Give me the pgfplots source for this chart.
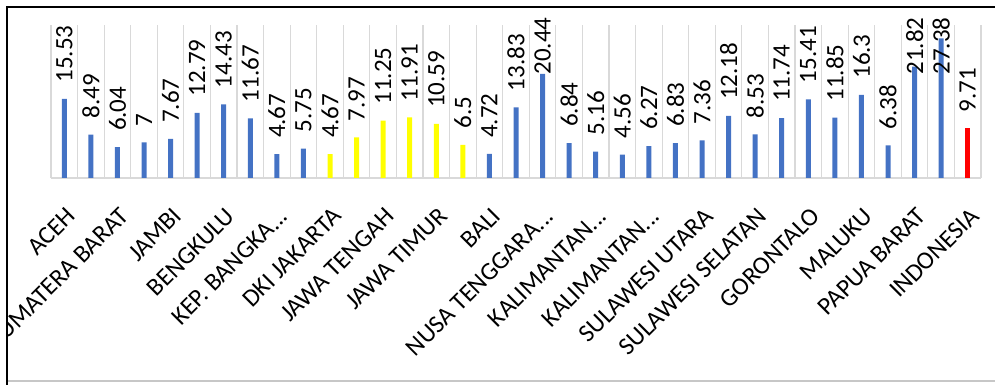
\documentclass[border=0pt]{standalone}
\usepackage{pgfplots}
\pgfplotsset{compat=1.18}
\usepackage{pgfplotstable}
\usepackage{fontspec}
\setmainfont{Carlito}
\definecolor{barblue}{HTML}{4472C4}
\definecolor{baryellow}{HTML}{FFFF00}
\definecolor{barred}{HTML}{FF0000}
\definecolor{gridgray}{HTML}{D9D9D9}
\newcommand{\el}{.\kern0pt.\kern0pt.}

\pgfplotstableread{
x v ly
0 15.53 15.53
1 8.49 8.49
2 6.04 6.04
3 7 7
4 7.67 7.67
5 12.79 12.79
6 14.43 14.43
7 11.67 11.67
8 4.67 4.67
9 5.75 5.75
10 4.67 4.67
11 7.97 7.97
12 11.25 11.25
13 11.91 11.91
14 10.59 10.59
15 6.5 6.5
16 4.72 4.72
17 13.83 13.83
18 20.44 17.1
19 6.84 6.84
20 5.16 5.16
21 4.56 4.56
22 6.27 6.27
23 6.83 6.83
24 7.36 7.36
25 12.18 12.18
26 8.53 8.53
27 11.74 11.74
28 15.41 15.41
29 11.85 11.85
30 16.3 16.3
31 6.38 6.38
32 21.82 17.1
33 27.38 17.1
34 9.71 9.71
}\datatable

\begin{document}
\begin{tikzpicture}[x=1pt,y=1pt]
\useasboundingbox (0,0) rectangle (995,385);
\begin{scope}
\clip (7,0) rectangle (995,378);
\begin{axis}[
  at={(51pt,207pt)}, anchor=south west,
  scale only axis, width=930pt, height=153pt,
  xmin=-0.5, xmax=34.5, ymin=0, ymax=30,
  clip=false,
  hide y axis,
  axis x line*=bottom,
  x axis line style={draw=gridgray, line width=1.3pt},
  major tick length=0pt,
  xtick={0,2,...,34},
  xticklabels={ACEH,SUMATERA BARAT,JAMBI,BENGKULU,KEP. BANGKA\el,DKI JAKARTA,JAWA TENGAH,JAWA TIMUR,BALI,NUSA TENGGARA\el,KALIMANTAN\el,KALIMANTAN\el,SULAWESI UTARA,SULAWESI SELATAN,GORONTALO,MALUKU,PAPUA BARAT,INDONESIA},
  xticklabel style={font=\fontsize{25}{25}\selectfont, xshift=7pt, yshift=-34pt, rotate=45, anchor=east, inner sep=0pt},
  extra x ticks={-0.5,0.5,...,34.5},
  extra x tick labels={},
  extra x tick style={grid=major, major grid style={draw=gridgray, line width=1.1pt}},
]
\addplot[ybar, bar width=5pt, bar shift=0pt, fill=barblue, draw=none, restrict x to domain=0:9] table[x=x, y=v] {\datatable};
\addplot[ybar, bar width=5pt, bar shift=0pt, fill=baryellow, draw=none, restrict x to domain=10:15] table[x=x, y=v] {\datatable};
\addplot[ybar, bar width=5pt, bar shift=0pt, fill=barblue, draw=none, restrict x to domain=16:33] table[x=x, y=v] {\datatable};
\addplot[ybar, bar width=5pt, bar shift=0pt, fill=barred, draw=none, restrict x to domain=34:34] table[x=x, y=v] {\datatable};
\addplot[draw=none, mark=none, point meta=explicit symbolic, nodes near coords,
  every node near coord/.append style={font=\fontsize{25}{25}\selectfont, text=black, rotate=90, anchor=west, inner xsep=16pt, inner ysep=0pt}]
  table[x=x, y=ly, meta=v] {\datatable};
\end{axis}
\end{scope}
\draw[gridgray!80!gray, line width=1.2pt] (7,4) -- (995,4);
\draw[black, line width=2pt] (7,0) -- (7,378) -- (995,378);
\end{tikzpicture}
\end{document}
